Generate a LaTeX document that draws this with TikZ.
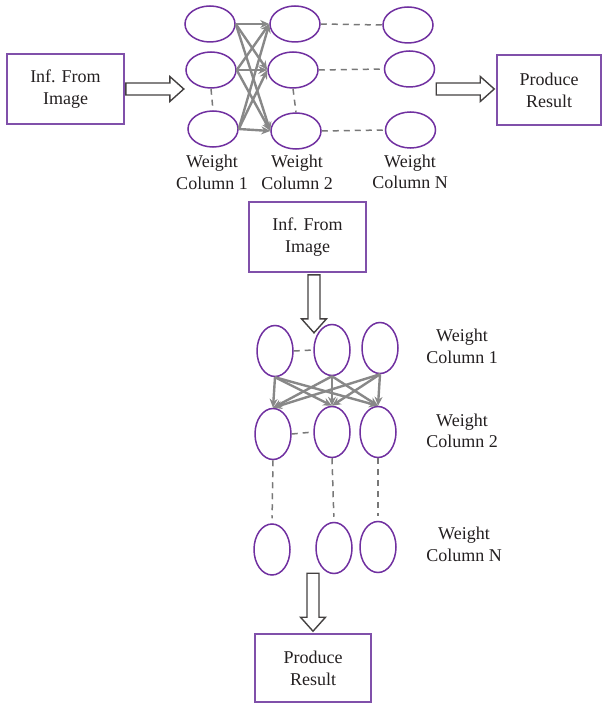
\documentclass[tikz,border=0pt]{standalone}
\usepackage{fontspec}
\setmainfont{Liberation Serif}
\usetikzlibrary{shapes.geometric,arrows.meta,calc}
\definecolor{nodepurple}{RGB}{112,48,160}
\definecolor{boxpurple}{RGB}{128,80,170}
\definecolor{linkgray}{RGB}{136,136,136}
\definecolor{dashgray}{RGB}{120,120,120}
\definecolor{inkdark}{RGB}{35,31,32}
\tikzset{
  neuronh/.style={ellipse, draw=nodepurple, line width=1.5pt, minimum width=50pt, minimum height=36pt, inner sep=0pt},
  neuronv/.style={ellipse, draw=nodepurple, line width=1.5pt, minimum width=36pt, minimum height=51pt, inner sep=0pt},
  stagebox/.style={rectangle, draw=boxpurple, line width=1.6pt, minimum width=117pt, minimum height=70pt, align=center, text=inkdark, font=\fontsize{18}{22}\selectfont},
  caption/.style={align=center, text=inkdark, font=\fontsize{18}{21.5}\selectfont},
  link/.style={draw=linkgray, line width=2.4pt, -{Stealth[length=9pt,width=8pt]}},
  skip/.style={draw=dashgray, line width=1.5pt, dash pattern=on 6pt off 5pt},
  fatline/.style={draw=inkdark!85, line width=1.4pt, fill=white, line join=miter},
  fatarrow/.pic={\path[fatline] (0,-6) -- (44,-6) -- (44,-12.5) -- (58,0) -- (44,12.5) -- (44,6) -- (0,6) -- cycle;}
}
\begin{document}
\begin{tikzpicture}[x=1pt,y=-1pt]
\useasboundingbox (0,0) rectangle (608,703);

% ---- horizontal layout ----
\node[stagebox] (inA) at (65.5,89) {Inf. From\\Image};
\node[stagebox, minimum width=104pt] (outA) at (549,90) {Produce\\Result};

\node[neuronh] (t11) at (210,24) {};
\node[neuronh] (t12) at (211,70) {};
\node[neuronh] (t13) at (213,129) {};
\node[neuronh] (t21) at (295,24) {};
\node[neuronh] (t22) at (293,70) {};
\node[neuronh] (t23) at (296,131) {};
\node[neuronh] (tN1) at (408,25) {};
\node[neuronh] (tN2) at (409.5,69) {};
\node[neuronh] (tN3) at (410.5,130) {};

\foreach \a in {1,2,3}{
  \foreach \b in {1,2,3}{
    \draw[link] (t1\a.east) -- (t2\b.west);
  }
}
\foreach \r in {1,2,3}{
  \draw[skip] (t2\r.east) -- (tN\r.west);
}
\draw[skip] (t12.south) -- (t13.north);
\draw[skip] (t22.south) -- (t23.north);

\node[caption] (capA1) at (212,172.5) {Weight\\Column 1};
\node[caption] (capA2) at (297,172.5) {Weight\\Column 2};
\node[caption] (capAN) at (410,172) {Weight\\Column N};

\pic at ($(inA.east)+(1,0)$) {fatarrow};
\pic at ($(tN2.east)+(1,20)$) {fatarrow};

% ---- vertical layout ----
\node[stagebox] (inB) at (307.5,237) {Inf. From\\Image};
\node[stagebox, minimum width=116pt, minimum height=68pt] (outB) at (313,668) {Produce\\Result};

\node[neuronv] (b11) at (275,351) {};
\node[neuronv] (b12) at (332,350) {};
\node[neuronv] (b13) at (380,348) {};
\node[neuronv] (b21) at (273,434) {};
\node[neuronv] (b22) at (332,432) {};
\node[neuronv] (b23) at (378,432) {};
\node[neuronv] (bN1) at (272,549.5) {};
\node[neuronv] (bN2) at (334,548) {};
\node[neuronv] (bN3) at (378,547) {};

\foreach \a in {1,2,3}{
  \foreach \b in {1,2,3}{
    \draw[link] (b1\a.south) -- (b2\b.north);
  }
}
\draw[skip] (b11.east) -- (b12.west);
\draw[skip] (b21.east) -- (b22.west);
\foreach \c in {1,2,3}{
  \draw[skip, shorten >=5pt] (b2\c.south) -- (bN\c.north);
}

\node[caption] (capB1) at (462,346.5) {Weight\\Column 1};
\node[caption] (capB2) at (462,431) {Weight\\Column 2};
\node[caption] (capBN) at (464,544.5) {Weight\\Column N};

\pic[rotate=-90] at ($(inB.south)+(6.5,2)$) {fatarrow};
\pic[rotate=-90] at ($(outB.north)+(0,-60)$) {fatarrow};
\end{tikzpicture}
\end{document}
